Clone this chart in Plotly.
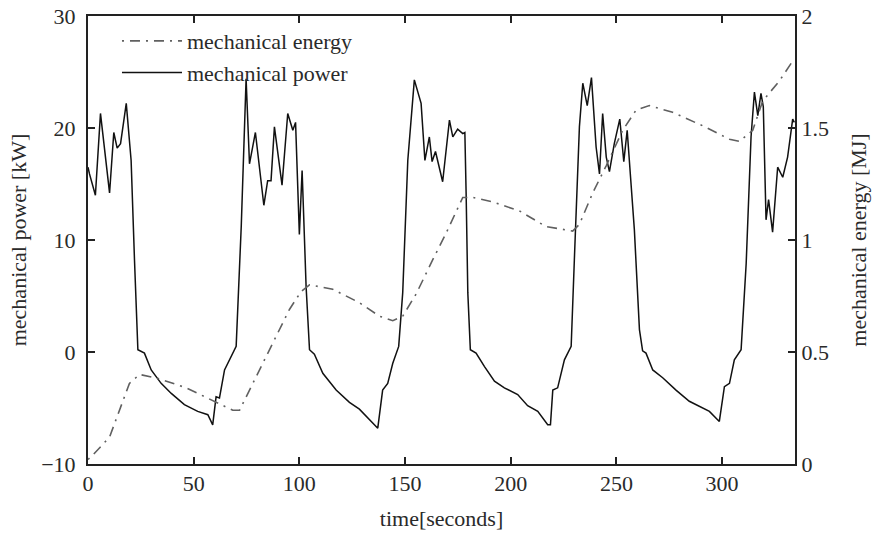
import plotly.graph_objects as go

# mechanical power [kW] vs time [s]
power_t = [0, 0.7, 3.5, 5.9, 10.2, 12.2, 13.8, 15.4, 18.1, 20.4, 22.0, 23.6, 26.7, 29.9, 34.6, 39.4,
           45.6, 51.9, 56.7, 59.0, 60.6, 62.2, 64.6, 67.7, 70.1, 72.5, 74.8, 76.4, 79.2, 83.2, 85.0,
           86.6, 88.2, 91.8, 94.5, 96.9, 98.2, 100.0, 101.3, 103.2, 104.8, 107.1, 111.1, 117.4,
           123.7, 128.4, 133.2, 137.1, 139.4, 141.8, 144.2, 147.0, 148.9, 151.3, 154.4, 157.6,
           159.4, 161.5, 162.8, 164.4, 167.8, 171.0, 172.6, 174.9, 177.3, 178.3, 178.9, 179.7,
           180.9, 183.6, 187.6, 192.3, 197.0, 203.3, 208.0, 212.8, 217.5, 218.8, 219.9, 222.2,
           225.4, 228.6, 230.1, 232.5, 234.1, 236.2, 238.2, 240.4, 242.0, 243.5, 245.2, 246.7,
           249.0, 251.6, 253.5, 255.1, 256.7, 258.5, 260.9, 262.4, 264.0, 267.2, 271.9, 278.2,
           284.5, 290.8, 294.0, 298.7, 301.1, 303.5, 305.8, 309.0, 311.4, 313.7, 315.3, 316.9,
           318.4, 319.5, 320.8, 322.0, 323.9, 326.3, 328.7, 331.0, 332.6, 333.4, 334.2]
power_kw = [16.5, 15.9, 14.0, 21.3, 14.2, 19.6, 18.2, 18.6, 22.2, 17.1, 8.2, 0.2, -0.1, -1.6, -2.8, -3.7,
            -4.7, -5.3, -5.6, -6.5, -4.0, -4.1, -1.6, -0.4, 0.5, 11.2, 24.4, 16.8, 19.6, 13.1, 15.3,
            15.3, 20.1, 14.9, 21.3, 19.8, 20.5, 10.5, 16.2, 5.8, 0.2, -0.2, -1.9, -3.4,
            -4.5, -5.1, -6.0, -6.8, -3.4, -2.8, -1.0, 0.5, 5.3, 17.1, 24.3, 22.2,
            17.1, 19.2, 17.0, 17.9, 15.2, 20.7, 19.2, 19.9, 19.5, 19.6, 14.2, 5.3,
            0.2, -0.1, -1.3, -2.6, -3.2, -3.8, -4.8, -5.3, -6.5, -6.5, -3.4, -3.2,
            -0.7, 0.5, 8.2, 20.1, 24.0, 22.0, 24.5, 18.3, 15.9, 21.3, 17.4, 16.1,
            18.6, 20.8, 17.0, 19.8, 15.6, 10.9, 2.0, 0.1, -0.1, -1.6, -2.3, -3.4,
            -4.4, -5.0, -5.3, -6.2, -3.1, -2.8, -0.7, 0.2, 7.9, 19.2, 23.2, 21.1,
            23.1, 21.9, 11.8, 13.6, 10.7, 16.5, 15.6, 17.4, 19.8, 20.8, 20.5]

# mechanical energy [MJ] vs time [s]
energy_t = [0, 2.3, 10.2, 19.6, 24.4, 33.8, 46.5, 57.5, 68.5, 71.7, 78.0, 87.4, 95.3, 100.8, 104.8,
            115.8, 128.4, 137.9, 144.2, 148.9, 155.3, 163.0, 169.4, 177.3, 182.0, 191.5, 204.1,
            216.7, 229.3, 232.5, 238.8, 245.1, 253.0, 259.3, 265.6, 276.6, 290.8, 303.5, 308.2,
            314.5, 319.2, 327.1, 334.2]
energy_mj = [0.02, 0.04, 0.12, 0.36, 0.40, 0.38, 0.34, 0.29, 0.24, 0.24, 0.36, 0.54, 0.69, 0.77, 0.80,
             0.78, 0.72, 0.66, 0.64, 0.66, 0.76, 0.91, 1.03, 1.19, 1.19, 1.17, 1.13,
             1.06, 1.04, 1.07, 1.21, 1.33, 1.49, 1.58, 1.60, 1.57, 1.51, 1.45, 1.44,
             1.49, 1.62, 1.71, 1.81]

x_ticks = [0, 50, 100, 150, 200, 250, 300]
y_ticks = [-10, 0, 10, 20, 30]
y2_ticks = [0, 0.5, 1, 1.5, 2]
y2_labels = ["0", "0.5", "1", "1.5", "2"]

FONT = "Liberation Serif"
TXT = "#2a2a2a"
FS = 22

fig = go.Figure()
fig.add_trace(go.Scatter(x=energy_t, y=energy_mj, mode="lines", name="mechanical energy",
                         yaxis="y2",
                         line=dict(color="#606060", width=1.6, dash="2px,6px,10px,6px")))
fig.add_trace(go.Scatter(x=power_t, y=power_kw, mode="lines", name="mechanical power",
                         line=dict(color="#111111", width=1.5)))

axis_common = dict(showgrid=False, zeroline=False, showline=True, linecolor="#222222",
                   linewidth=2, ticks="inside", ticklen=7, tickcolor="#222222", tickwidth=1.5,
                   automargin=False, ticklabeloverflow="allow",
                   tickfont=dict(family=FONT, size=FS, color=TXT))

fig.update_layout(
    width=873, height=533,
    margin=dict(l=88, r=78, t=16, b=69),
    paper_bgcolor="white", plot_bgcolor="white",
    font=dict(family=FONT, size=FS, color=TXT),
    showlegend=True,
    legend=dict(x=0.041, y=0.991, xanchor="left", yanchor="top", bgcolor="rgba(0,0,0,0)",
                font=dict(family=FONT, size=FS, color=TXT), tracegroupgap=0, itemwidth=60),
    xaxis=dict(range=[0, 334.5], tickvals=x_ticks, mirror="ticks", ticklabelstandoff=-1,
               title=dict(text="time[seconds]", font=dict(family=FONT, size=FS, color=TXT), standoff=15),
               **axis_common),
    yaxis=dict(range=[-10, 30], tickvals=y_ticks, ticklabelstandoff=6,
               title=dict(text="mechanical power [kW]", font=dict(family=FONT, size=FS, color=TXT), standoff=8),
               **axis_common),
    yaxis2=dict(range=[0, 2], tickvals=y2_ticks, ticktext=y2_labels, overlaying="y", side="right",
                ticklabelstandoff=0,
                title=dict(text="mechanical energy [MJ]", font=dict(family=FONT, size=FS, color=TXT), standoff=23),
                **axis_common),
)

# remove the page's default 8px body margin so the figure fills the 873x533 window
fig.write_html("out.html", config={"displayModeBar": False},
               post_script="document.body.style.margin='0';")
